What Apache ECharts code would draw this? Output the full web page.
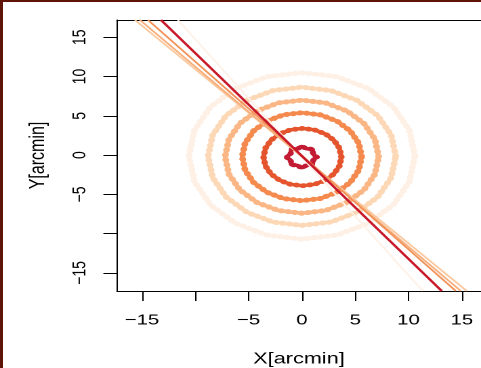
<!DOCTYPE html>
<html>
<head>
<meta charset="utf-8">
<script src="https://cdn.jsdelivr.net/npm/echarts@6/dist/echarts.min.js"></script>
<style>
  html, body { margin: 0; padding: 0; background: #ffffff; overflow: hidden; }
  #wrap { position: absolute; left: 0; top: 0; width: 481px; height: 368px; overflow: hidden; background: #fff; }
  #chart { position: absolute; left: 0; top: 0; width: 355px; height: 368px; transform: scaleX(1.35493); transform-origin: 0 0; }
  #frameTop { position: absolute; left: 0; top: 0; width: 481px; height: 2px; background: #5e1406; }
  #frameLeft { position: absolute; left: 0; top: 0; width: 3px; height: 368px; background: #5e1406; }
</style>
</head>
<body>
<div id="wrap">
  <div id="chart"></div>
  <div id="frameTop"></div>
  <div id="frameLeft"></div>
</div>
<script>
// ---- tick values / labels ----
const xTickValues = [-15, -10, -5, 0, 5, 10, 15];
const xLabelValues = [-15, -5, 0, 5, 10, 15];
const yTickValues = [-15, -10, -5, 0, 5, 10, 15];
const yLabelValues = [-15, -5, 0, 5, 10, 15];

// ---- contour rings (x, y in arcmin), outer to inner ----
const ring6 = [[10.6,-0.1],[10.08,3.18],[8.58,6.13],[6.23,8.48],[3.28,9.98],[0,10.5],[-3.28,9.98],[-6.23,8.48],[-8.58,6.13],[-10.08,3.18],[-10.6,-0.1],[-10.08,-3.38],[-8.58,-6.33],[-6.23,-8.68],[-3.28,-10.18],[0,-10.7],[3.28,-10.18],[6.23,-8.68],[8.58,-6.33],[10.08,-3.38],[10.6,-0.1]];
const ring5 = [[8.8,-0.15],[8.37,2.57],[7.12,5.02],[5.17,6.97],[2.72,8.22],[0,8.65],[-2.72,8.22],[-5.17,6.97],[-7.12,5.02],[-8.37,2.57],[-8.8,-0.15],[-8.37,-2.87],[-7.12,-5.32],[-5.17,-7.27],[-2.72,-8.52],[0,-8.95],[2.72,-8.52],[5.17,-7.27],[7.12,-5.32],[8.37,-2.87],[8.8,-0.15]];
const ring4 = [[7.2,-0.2],[6.85,2.02],[5.82,4.03],[4.23,5.62],[2.22,6.65],[0,7.0],[-2.22,6.65],[-4.23,5.62],[-5.82,4.03],[-6.85,2.02],[-7.2,-0.2],[-6.85,-2.42],[-5.82,-4.43],[-4.23,-6.02],[-2.22,-7.05],[0,-7.4],[2.22,-7.05],[4.23,-6.02],[5.82,-4.43],[6.85,-2.42],[7.2,-0.2]];
const ring3 = [[5.6,-0.2],[5.33,1.53],[4.53,3.09],[3.29,4.33],[1.73,5.13],[0,5.4],[-1.73,5.13],[-3.29,4.33],[-4.53,3.09],[-5.33,1.53],[-5.6,-0.2],[-5.33,-1.93],[-4.53,-3.49],[-3.29,-4.73],[-1.73,-5.53],[0,-5.8],[1.73,-5.53],[3.29,-4.73],[4.53,-3.49],[5.33,-1.93],[5.6,-0.2]];
const ring2 = [[3.7,-0.25],[3.52,0.88],[3.0,1.9],[2.2,2.7],[1.18,3.22],[0.05,3.4],[-1.08,3.22],[-2.1,2.7],[-2.9,1.9],[-3.42,0.88],[-3.6,-0.25],[-3.42,-1.38],[-2.9,-2.4],[-2.1,-3.2],[-1.08,-3.72],[0.05,-3.9],[1.18,-3.72],[2.2,-3.2],[3.0,-2.4],[3.52,-1.38],[3.7,-0.25]];
const ring1 = [[1.4,-0.25],[1.06,0.19],[0.99,0.74],[0.44,0.81],[0,1.1],[-0.44,0.81],[-0.99,0.74],[-1.06,0.19],[-1.4,-0.25],[-1.06,-0.69],[-0.99,-1.2],[-0.44,-1.31],[0,-1.6],[0.44,-1.31],[0.99,-1.2],[1.06,-0.69],[1.4,-0.25]];

// ---- straight lines (endpoints at plot box edges) ----
const lineA = [[-13.22, 17.2], [13.12, -17.3]];
const lineB = [[-14.44, 17.2], [14.44, -17.3]];
const lineC = [[-15.19, 17.2], [14.91, -17.3]];
const lineD = [[-15.66, 17.2], [15.47, -17.3]];
const lineE = [[-11.63, 17.2], [11.34, -17.3]];

const rings = [
  { data: ring6, color: '#fef0e5', w: 3.5, dot: 5, smooth: false },
  { data: ring5, color: '#fdd8b6', w: 3.5, dot: 5, smooth: false },
  { data: ring4, color: '#fab684', w: 3.5, dot: 5, smooth: false },
  { data: ring3, color: '#f58a4e', w: 3.5, dot: 5, smooth: false },
  { data: ring2, color: '#e5552d', w: 3.5, dot: 4.8, smooth: false },
  { data: ring1, color: '#c21b33', w: 3.5, dot: 4.5, smooth: true }
];
const lines = [
  { data: lineE, color: '#fef1e7', w: 1.5 },
  { data: lineD, color: '#fbc79c', w: 1.5 },
  { data: lineC, color: '#f8ae7a', w: 1.5 },
  { data: lineB, color: '#f29259', w: 1.5 },
  { data: lineA, color: '#c8182a', w: 2 }
];

const minus = v => (v < 0 ? '\u2212' + Math.abs(v) : String(v));
const FONT = 'Liberation Sans, Arial, Helvetica, sans-serif';

const series = [];
rings.forEach(r => {
  series.push({
    type: 'line', data: r.data, symbol: 'none', smooth: r.smooth, silent: true, animation: false,
    lineStyle: { color: r.color, width: r.w, join: 'round' }, z: 2
  });
  series.push({
    type: 'line', data: r.data, symbol: 'none', smooth: r.smooth, silent: true, animation: false,
    lineStyle: { color: r.color, width: r.dot, type: [0.5, 4.5], cap: 'round' }, z: 2
  });
});
lines.forEach(l => {
  series.push({
    type: 'line', data: l.data, symbol: 'none', silent: true, animation: false,
    lineStyle: { color: l.color, width: l.w }, z: 3
  });
});

const chart = echarts.init(document.getElementById('chart'), null, { renderer: 'canvas', devicePixelRatio: 2 });
chart.setOption({
  backgroundColor: '#ffffff',
  animation: false,
  grid: { left: 86.3, right: 0, top: 20, bottom: 77, containLabel: false, outerBoundsMode: 'none' },
  xAxis: [{
    type: 'value', min: -17.35, max: 16.8, position: 'bottom',
    name: 'X[arcmin]', nameLocation: 'middle', nameGap: 60,
    nameTextStyle: { color: '#000', fontSize: 16, fontFamily: FONT },
    axisLine: { show: true, onZero: false, lineStyle: { color: '#000', width: 1 } },
    axisTick: { show: true, customValues: xTickValues, length: 10, inside: false, lineStyle: { color: '#000', width: 1 } },
    axisLabel: { show: true, customValues: xLabelValues, formatter: minus, margin: 22, color: '#000', fontSize: 15, fontFamily: FONT },
    splitLine: { show: false }
  }, {
    type: 'value', min: -17.35, max: 16.8, position: 'top',
    axisLine: { show: true, onZero: false, lineStyle: { color: '#000', width: 1 } },
    axisTick: { show: false }, axisLabel: { show: false }, splitLine: { show: false }
  }],
  yAxis: [{
    type: 'value', min: -17.3, max: 17.2, position: 'left',
    name: 'Y[arcmin]', nameLocation: 'middle', nameGap: 50, nameRotate: 90,
    nameTextStyle: { color: '#000', fontSize: 16, fontFamily: FONT },
    axisLine: { show: true, onZero: false, lineStyle: { color: '#000', width: 1 } },
    axisTick: { show: true, customValues: yTickValues, length: 10, inside: false, lineStyle: { color: '#000', width: 1 } },
    axisLabel: { show: true, customValues: yLabelValues, formatter: minus, rotate: 90, margin: 20, color: '#000', fontSize: 14, fontFamily: FONT },
    splitLine: { show: false }
  }],
  series: series
});
</script>
</body>
</html>
